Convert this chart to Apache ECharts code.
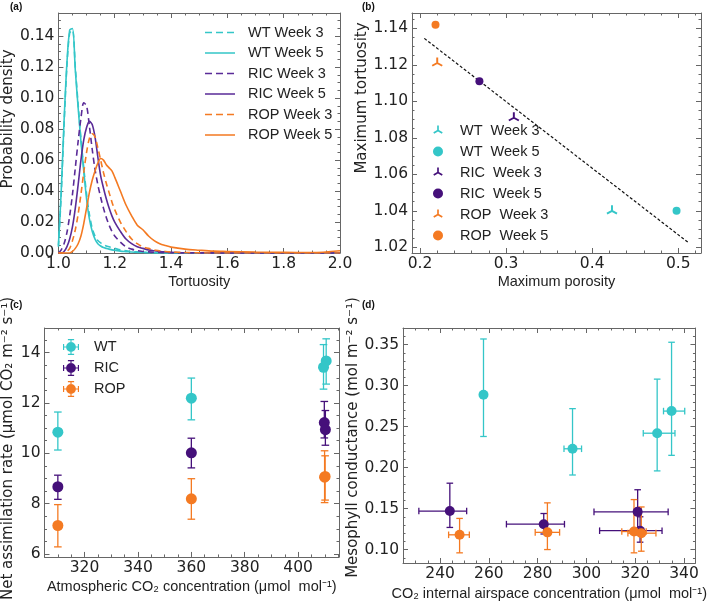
<!DOCTYPE html>
<html>
<head>
<meta charset="utf-8">
<script src="https://cdn.jsdelivr.net/npm/echarts@6/dist/echarts.min.js"></script>
<style>
  html, body { margin: 0; background: #fff; }
  #chart { width: 709px; height: 602px; }
</style>
</head>
<body>
<div id="chart"></div>
<script>
// ---- (a) tortuosity distributions ----
const tortuosity = [1.00, 1.01, 1.02, 1.03, 1.04, 1.05, 1.06, 1.07, 1.08, 1.09, 1.10, 1.11, 1.12, 1.13, 1.14, 1.15, 1.16, 1.17, 1.18, 1.19, 1.20,
  1.22, 1.24, 1.26, 1.28, 1.30, 1.32, 1.34, 1.36, 1.38, 1.40, 1.45, 1.50, 1.55, 1.60, 1.70, 1.80, 1.90, 2.00]
const wtWeek3 = [0.004, 0.038, 0.082, 0.120, 0.142, 0.144, 0.120, 0.096, 0.074, 0.055, 0.038, 0.025, 0.016, 0.011, 0.008, 0.0065, 0.0055, 0.0045, 0.004, 0.0035, 0.003,
  0.002, 0.0015, 0.001, 0.0007, 0.0005, 0.0003, 0.0002, 0.0001, 0, 0, 0, 0, 0, 0, 0, 0, 0, 0]
const wtWeek5 = [0.005, 0.040, 0.085, 0.122, 0.144, 0.145, 0.118, 0.094, 0.072, 0.053, 0.035, 0.022, 0.014, 0.009, 0.006, 0.0045, 0.0035, 0.003, 0.0025, 0.002, 0.0018,
  0.0012, 0.0009, 0.0006, 0.0004, 0.0003, 0.0002, 0.0001, 0, 0, 0, 0, 0, 0, 0, 0, 0, 0, 0]
const ricWeek3 = [0, 0.002, 0.006, 0.013, 0.024, 0.038, 0.055, 0.072, 0.087, 0.097, 0.095, 0.082, 0.067, 0.054, 0.044, 0.036, 0.029, 0.023, 0.018, 0.014, 0.011,
  0.007, 0.004, 0.0025, 0.0015, 0.001, 0.0007, 0.0005, 0.0003, 0.0002, 0.0001, 0, 0, 0, 0, 0, 0, 0, 0]
const ricWeek5 = [0, 0, 0.001, 0.004, 0.009, 0.017, 0.029, 0.044, 0.060, 0.073, 0.081, 0.085, 0.083, 0.075, 0.062, 0.050, 0.042, 0.035, 0.029, 0.024, 0.020,
  0.014, 0.009, 0.006, 0.004, 0.003, 0.002, 0.0015, 0.001, 0.0007, 0.0005, 0.0002, 0.0001, 0, 0, 0, 0, 0, 0]
const ropWeek3 = [0, 0, 0, 0.001, 0.003, 0.008, 0.015, 0.025, 0.038, 0.052, 0.065, 0.074, 0.077, 0.075, 0.068, 0.060, 0.052, 0.045, 0.039, 0.033, 0.028,
  0.020, 0.014, 0.009, 0.006, 0.004, 0.003, 0.002, 0.0015, 0.001, 0.0007, 0.0003, 0.0001, 0, 0, 0, 0, 0, 0]
const ropWeek5 = [0, 0, 0, 0, 0, 0.001, 0.003, 0.006, 0.011, 0.019, 0.029, 0.039, 0.047, 0.053, 0.058, 0.061, 0.060, 0.057, 0.055, 0.053, 0.049,
  0.040, 0.031, 0.024, 0.018, 0.015, 0.011, 0.008, 0.006, 0.0048, 0.0038, 0.0025, 0.0018, 0.0012, 0.001, 0.0006, 0.0004, 0.0003, 0.0015]
const ticksA_x = [1.0, 1.2, 1.4, 1.6, 1.8, 2.0]
const ticksA_y = [0, 0.02, 0.04, 0.06, 0.08, 0.10, 0.12, 0.14]

// ---- (b) maximum porosity vs maximum tortuosity ----
const groupsB = ['WT  Week 3', 'WT  Week 5', 'RIC  Week 3', 'RIC  Week 5', 'ROP  Week 3', 'ROP  Week 5']
const porosityMax = [0.423, 0.498, 0.309, 0.269, 0.220, 0.218]
const tortuosityMax = [1.040, 1.040, 1.091, 1.111, 1.121, 1.142]
const porosityFit = [0.205, 0.512]
const tortuosityFit = [1.1345, 1.0225]
const ticksB_x = [0.2, 0.3, 0.4, 0.5]
const ticksB_y = [1.02, 1.04, 1.06, 1.08, 1.10, 1.12, 1.14]

// ---- (c) net assimilation vs atmospheric CO2 ----
const wtCa = [310, 360, 409.5, 410.5]
const wtA = [10.84, 12.19, 13.42, 13.67]
const wtALow = [10.13, 11.33, 12.55, 12.75]
const wtAHigh = [11.64, 12.99, 14.32, 14.55]
const ricCa = [310, 360, 409.8, 410.2]
const ricA = [8.67, 10.02, 11.22, 10.94]
const ricALow = [8.17, 9.42, 10.61, 10.32]
const ricAHigh = [9.13, 10.60, 12.06, 11.70]
const ropCa = [310, 360, 409.9, 410.1]
const ropA = [7.13, 8.19, 9.05, 9.08]
const ropALow = [6.28, 7.38, 8.04, 8.14]
const ropAHigh = [7.96, 8.99, 10.10, 9.90]
const ticksC_x = [320, 340, 360, 380, 400]
const ticksC_y = [6, 8, 10, 12, 14]

// ---- (d) mesophyll conductance vs internal CO2 ----
const wtCi = [257.8, 294.3, 329.0, 334.9]
const wtCiLow = [256.8, 290.8, 323.3, 331.6]
const wtCiHigh = [258.8, 298.0, 336.3, 340.3]
const wtGm = [0.289, 0.223, 0.242, 0.269]
const wtGmLow = [0.238, 0.191, 0.196, 0.215]
const wtGmHigh = [0.357, 0.272, 0.308, 0.353]
const ricCi = [244.0, 282.5, 321.0, 322.0]
const ricCiLow = [231.3, 267.2, 303.1, 305.4]
const ricCiHigh = [250.9, 291.0, 333.5, 331.0]
const ricGm = [0.147, 0.131, 0.146, 0.123]
const ricGmLow = [0.127, 0.119, 0.118, 0.109]
const ricGmHigh = [0.181, 0.144, 0.173, 0.140]
const ropCi = [248.0, 284.0, 319.5, 322.5]
const ropCiLow = [243.5, 279.0, 314.5, 317.0]
const ropCiHigh = [252.0, 289.0, 324.5, 328.5]
const ropGm = [0.118, 0.121, 0.122, 0.120]
const ropGmLow = [0.096, 0.100, 0.096, 0.098]
const ropGmHigh = [0.138, 0.157, 0.161, 0.152]
const ticksD_x = [240, 260, 280, 300, 320, 340]
const ticksD_y = [0.10, 0.15, 0.20, 0.25, 0.30, 0.35]

const CYAN = '#34c6c8'
const PURPLE_LINE = '#5a2b98'
const PURPLE = '#45107a'
const ORANGE = '#f47a22'
const FRAME = '#666'
const FONT = 'Liberation Sans, Arial, sans-serif'
const TICK_FONT = 'DejaVu Sans, sans-serif'

// three-spoke marker (Week 3), legend line icons and error-bar legend icon
const TRI = 'path://M-1.5 -9L1.5 -9L1.5 0.8L-1.5 0.8Z' +
  'M0.75 1.3L-6.95 5.8L-8.45 3.2L-0.75 -1.3Z' +
  'M0.75 -1.3L8.45 3.2L6.95 5.8L-0.75 1.3Z' +
  'M-0.05 8.95L0.05 8.95L0.05 9L-0.05 9Z'
const SOLID_ICON = 'path://M0 0H0.01V0.01H0Z M0 6.2H30V7.8H0Z M29.99 13.99H30V14H29.99Z'
const DASH_ICON = 'path://M0 0H0.01V0.01H0Z M0 6.2H7V7.8H0Z M11 6.2H18V7.8H11Z M22 6.2H29V7.8H22Z M29.99 13.99H30V14H29.99Z'
const ERR_ICON = 'path://M10 4.5A5.5 5.5 0 1 1 9.99 4.5Z' +
  'M1 9.35L19 9.35L19 10.65L1 10.65Z M1 6.5L2.3 6.5L2.3 13.5L1 13.5Z M17.7 6.5L19 6.5L19 13.5L17.7 13.5Z' +
  'M9.35 1L10.65 1L10.65 19L9.35 19Z M6.5 1L13.5 1L13.5 2.3L6.5 2.3Z M6.5 17.7L13.5 17.7L13.5 19L6.5 19Z'

function minorTicks(min, max, step, majors) {
  const out = []
  for (let k = Math.ceil(min / step - 1e-9); k * step <= max + 1e-9; k++) {
    const v = +(k * step).toFixed(6)
    if (!majors.some((m) => Math.abs(m - v) < step / 10)) out.push(v)
  }
  return out
}

// four axes per dimension: labelled major, minor, and mirrored ones on the opposite side
function frameAxes(dim, gridIndex, min, max, majors, minorStep, fmt, name, nameGap, nameStyle) {
  const sides = dim === 'x' ? ['bottom', 'top'] : ['left', 'right']
  const minors = minorTicks(min, max, minorStep, majors)
  const base = { type: 'value', gridIndex, min, max, splitLine: { show: false } }
  const line = (show) => ({ show, onZero: false, lineStyle: { color: FRAME, width: 1 } })
  const tick = (vals, len) => ({ show: true, inside: true, length: len, customValues: vals, lineStyle: { color: FRAME, width: 1 } })
  const noLabel = { show: false }
  return [
    {
      ...base, position: sides[0], axisLine: line(true), axisTick: tick(majors, 5),
      axisLabel: { show: true, customValues: majors, formatter: fmt, margin: dim === 'x' ? 3 : 4, fontSize: 15.5, color: '#222', fontFamily: TICK_FONT },
      name, nameLocation: 'middle', nameGap,
      nameTextStyle: { color: '#222', ...nameStyle },
    },
    { ...base, position: sides[0], axisLine: line(false), axisTick: tick(minors, 2.5), axisLabel: noLabel },
    { ...base, position: sides[1], axisLine: line(true), axisTick: tick(majors, 5), axisLabel: noLabel },
    { ...base, position: sides[1], axisLine: line(false), axisTick: tick(minors, 2.5), axisLabel: noLabel },
  ]
}

const fix = (n) => (v) => v.toFixed(n)
const xName = { fontSize: 14.5, fontFamily: FONT }
// vertical titles: the padding slides them along the axis as in the figure
const yName = (shift) => ({
  fontSize: 15, fontFamily: TICK_FONT,
  padding: shift > 0 ? [0, 0, 0, 2 * shift] : [0, -2 * shift, 0, 0],
})

const xAxes = [
  ...frameAxes('x', 0, 1.0, 2.0, ticksA_x, 0.05, fix(1), 'Tortuosity', 21, xName),
  ...frameAxes('x', 1, 0.1907, 0.5264, ticksB_x, 0.02, fix(1), 'Maximum porosity', 21, xName),
  ...frameAxes('x', 2, 305, 415.3, ticksC_x, 5, fix(0), 'Atmospheric CO\u2082 concentration (\u03bcmol  mol\u207b\u00b9)', 23, xName),
  ...frameAxes('x', 3, 224.8, 344.7, ticksD_x, 5, fix(0), 'CO\u2082 internal airspace concentration (\u03bcmol  mol\u207b\u00b9)', 23, xName),
]
const yAxes = [
  ...frameAxes('y', 0, 0, 0.155, ticksA_y, 0.005, fix(2), 'Probability density', 33, yName(14)),
  ...frameAxes('y', 1, 1.0169, 1.1484, ticksB_y, 0.005, fix(2), 'Maximum tortuosity', 41, yName(35)),
  ...frameAxes('y', 2, 5.88, 14.98, ticksC_y, 0.5, fix(0), 'Net assimilation rate (\u03bcmol CO\u2082 m\u207b\u00b2 s\u207b\u00b9)', 28.5, yName(-6)),
  ...frameAxes('y', 3, 0.0836, 0.3704, ticksD_y, 0.01, fix(2), 'Mesophyll conductance (mol m\u207b\u00b2 s\u207b\u00b9)', 38.5, yName(8)),
]

const curves = [
  ['WT Week 3', wtWeek3, CYAN, [6, 4]],
  ['WT Week 5', wtWeek5, CYAN, 'solid'],
  ['RIC Week 3', ricWeek3, PURPLE_LINE, [6, 4]],
  ['RIC Week 5', ricWeek5, PURPLE_LINE, 'solid'],
  ['ROP Week 3', ropWeek3, ORANGE, [6, 4]],
  ['ROP Week 5', ropWeek5, ORANGE, 'solid'],
]
const seriesA = curves.map(([name, vals, color, type]) => ({
  type: 'line', name, xAxisIndex: 0, yAxisIndex: 0, symbol: 'none', smooth: 0.3,
  data: tortuosity.map((t, i) => [t, vals[i]]),
  lineStyle: { color, width: 1.6, type },
  itemStyle: { color },
}))

const colorsB = [CYAN, CYAN, PURPLE, PURPLE, ORANGE, ORANGE]
const seriesB = groupsB.map((name, i) => ({
  type: 'scatter', name, xAxisIndex: 4, yAxisIndex: 4,
  symbol: i % 2 === 0 ? TRI : 'circle', symbolSize: i % 2 === 0 ? 11 : 8,
  itemStyle: { color: colorsB[i], opacity: 1 },
  data: [[porosityMax[i], tortuosityMax[i]]],
  z: 3,
}))
seriesB.push({
  type: 'line', name: 'fit', xAxisIndex: 4, yAxisIndex: 4, symbol: 'none',
  data: porosityFit.map((p, i) => [p, tortuosityFit[i]]),
  lineStyle: { color: '#111', width: 1.2, type: [3, 2] },
  z: 2,
})

function errorBars(color, cap) {
  return function (params, api) {
    const x = api.value(0), y = api.value(1)
    const xl = api.value(2), xh = api.value(3), yl = api.value(4), yh = api.value(5)
    const p = api.coord([x, y])
    const style = { stroke: color, lineWidth: 1.3, fill: null }
    const seg = (x1, y1, x2, y2) => ({ type: 'line', shape: { x1, y1, x2, y2 }, style })
    const lo = api.coord([x, yl])[1], hi = api.coord([x, yh])[1]
    const kids = [seg(p[0], lo, p[0], hi), seg(p[0] - cap, lo, p[0] + cap, lo), seg(p[0] - cap, hi, p[0] + cap, hi)]
    if (xh > xl) {
      const l = api.coord([xl, y])[0], r = api.coord([xh, y])[0]
      kids.push(seg(l, p[1], r, p[1]), seg(l, p[1] - cap, l, p[1] + cap), seg(r, p[1] - cap, r, p[1] + cap))
    }
    return { type: 'group', children: kids }
  }
}

function groupSeries(name, color, axis, xs, ys, xLow, xHigh, yLow, yHigh, size, cap) {
  return [
    {
      type: 'custom', name: name + ' err', xAxisIndex: axis, yAxisIndex: axis,
      renderItem: errorBars(color, cap), encode: { x: 0, y: 1 },
      data: xs.map((x, i) => [x, ys[i], xLow ? xLow[i] : x, xHigh ? xHigh[i] : x, yLow[i], yHigh[i]]),
      z: 2,
    },
    {
      type: 'scatter', name, xAxisIndex: axis, yAxisIndex: axis, symbol: 'circle', symbolSize: size,
      itemStyle: { color, opacity: 1 }, data: xs.map((x, i) => [x, ys[i]]), z: 3,
    },
  ]
}

const seriesC = [
  ...groupSeries('WT', CYAN, 8, wtCa, wtA, null, null, wtALow, wtAHigh, 11, 3.8),
  ...groupSeries('RIC', PURPLE, 8, ricCa, ricA, null, null, ricALow, ricAHigh, 11, 3.8),
  ...groupSeries('ROP', ORANGE, 8, ropCa, ropA, null, null, ropALow, ropAHigh, 11, 3.8),
]
const seriesD = [
  ...groupSeries('WT', CYAN, 12, wtCi, wtGm, wtCiLow, wtCiHigh, wtGmLow, wtGmHigh, 10, 3.3),
  ...groupSeries('RIC', PURPLE, 12, ricCi, ricGm, ricCiLow, ricCiHigh, ricGmLow, ricGmHigh, 10, 3.3),
  ...groupSeries('ROP', ORANGE, 12, ropCi, ropGm, ropCiLow, ropCiHigh, ropGmLow, ropGmHigh, 10, 3.3),
]

const legendText = { fontSize: 14.5, color: '#222', fontFamily: FONT }
const panelLabel = (text, left, top) => ({
  type: 'text', left, top, style: { text, font: 'bold 10px ' + FONT, fill: '#111' },
})

const chart = echarts.init(document.getElementById('chart'), null, { renderer: 'canvas' })
chart.setOption({
  animation: false,
  backgroundColor: '#fff',
  grid: [
    { left: 50, top: 13, width: 290, height: 240 },
    { left: 412, top: 13, width: 289, height: 240 },
    { left: 44, top: 328, width: 295, height: 235 },
    { left: 403, top: 328, width: 295, height: 235 },
  ],
  xAxis: xAxes,
  yAxis: yAxes,
  legend: [
    {
      orient: 'vertical', left: 205, top: 25, padding: 0, itemWidth: 30, itemHeight: 14, itemGap: 5.5,
      itemStyle: { borderWidth: 0 },
      data: curves.map((c) => ({ name: c[0], icon: c[3] === 'solid' ? SOLID_ICON : DASH_ICON })),
      textStyle: { ...legendText, padding: [0, 0, 0, 8] },
    },
    {
      orient: 'vertical', left: 433, top: 123, padding: 0, itemWidth: 10, itemHeight: 10, itemGap: 6,
      data: groupsB.map((name, i) => ({ name, icon: i % 2 === 0 ? TRI : 'circle' })),
      textStyle: { ...legendText, padding: [0, 0, 0, 12] },
    },
    {
      orient: 'vertical', left: 63, top: 339, padding: 0, itemWidth: 16, itemHeight: 16, itemGap: 5,
      data: ['WT', 'RIC', 'ROP'].map((name) => ({ name, icon: ERR_ICON })),
      textStyle: { ...legendText, padding: [0, 0, 0, 10] },
    },
  ],
  graphic: [
    panelLabel('(a)', 10, 2),
    panelLabel('(b)', 362, 2),
    panelLabel('(c)', 10, 300),
    panelLabel('(d)', 362, 300),
  ],
  series: [...seriesA, ...seriesB, ...seriesC, ...seriesD],
})
</script>
</body>
</html>
